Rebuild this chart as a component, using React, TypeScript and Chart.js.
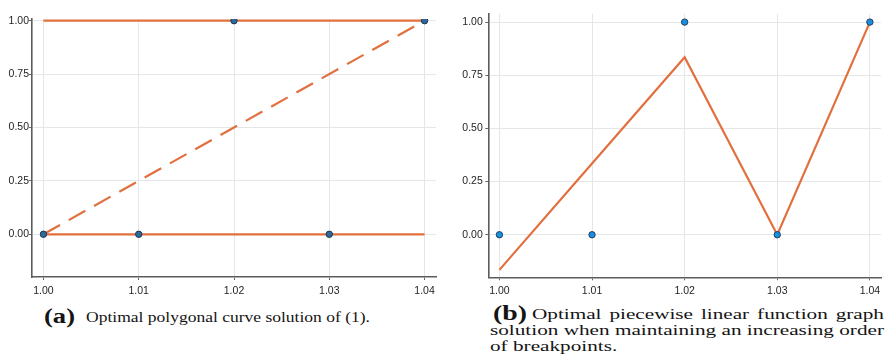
import React, { useEffect, useRef } from "react";
import { Chart, registerables } from "chart.js";

Chart.register(...registerables);

// ---- data ----
const xTicks = [1.0, 1.01, 1.02, 1.03, 1.04];
const yTicks = [0, 0.25, 0.5, 0.75, 1.0];

// (a) polygonal curve
const breakX = [1.0, 1.01, 1.02, 1.03, 1.04];
const breakY = [0, 0, 1, 0, 1];
const upperX = [1.0, 1.04];
const upperY = [1, 1];
const lowerX = [1.0, 1.04];
const lowerY = [0, 0];
const diagX = [1.0, 1.04];
const diagY = [0, 1];

// (b) piecewise linear function
const fitX = [1.0, 1.01, 1.02, 1.03, 1.04];
const fitY = [-0.165, 0.335, 0.835, 0, 1];

const capA = "Optimal polygonal curve solution of (1).";
const capB1 = "Optimal piecewise linear function graph";
const capB2 = "solution when maintaining an increasing order";
const capB3 = "of breakpoints.";

const LINE = "#E2703F";
const tickFont = { family: '"Liberation Sans", Arial, sans-serif', size: 10.5 };
const capFamily = '"Liberation Serif", "Times New Roman", serif';
const CAP = 15;

const zip = (xs: number[], ys: number[]) => xs.map((x, i) => ({ x, y: ys[i] }));

let mctx: CanvasRenderingContext2D | null = null;
function measure(text: string, size: number, weight = 400) {
  if (!mctx) mctx = document.createElement("canvas").getContext("2d");
  mctx!.font = `${weight} ${size}px ${capFamily}`;
  return mctx!.measureText(text).width;
}

function makeConfig(datasets: any[], o: any): any {
  return {
    type: "scatter",
    data: { datasets },
    options: {
      animation: false,
      responsive: false,
      devicePixelRatio: 1,
      layout: { padding: { left: 0, top: o.top, right: o.right, bottom: 0 } },
      plugins: { legend: { display: false }, tooltip: { enabled: false } },
      scales: {
        x: {
          type: "linear",
          min: 0.9988,
          max: 1.0412,
          afterBuildTicks: (s: any) => {
            s.ticks = xTicks.map((v) => ({ value: v }));
          },
          afterFit: (s: any) => {
            s.height = o.xHeight;
          },
          ticks: {
            font: tickFont,
            color: "#1e1e1e",
            padding: 5,
            maxRotation: 0,
            autoSkip: false,
            callback: (v: any) => Number(v).toFixed(2),
          },
          grid: { color: "#e6e6e6", lineWidth: 1, drawTicks: true, tickLength: 3, tickColor: "#666" },
          border: { color: "#5c5c5c", width: 1.6 },
        },
        y: {
          type: "linear",
          min: o.yMin,
          max: o.yMax,
          afterBuildTicks: (s: any) => {
            s.ticks = yTicks.map((v) => ({ value: v }));
          },
          afterFit: (s: any) => {
            s.width = o.yWidth;
          },
          ticks: {
            font: tickFont,
            color: "#1e1e1e",
            padding: o.yPad,
            autoSkip: false,
            callback: (v: any) => Number(v).toFixed(2),
          },
          grid: { color: "#e6e6e6", lineWidth: 1, drawTicks: true, tickLength: 3, tickColor: "#666" },
          border: { color: "#5c5c5c", width: 1.6 },
        },
      },
    },
  };
}

const lineDs = (data: any[], dash: number[] = []) => ({
  data,
  showLine: true,
  borderColor: LINE,
  borderWidth: 2.2,
  borderDash: dash,
  pointRadius: 0,
  order: 2,
});

const pointDs = (data: any[], fill: string, stroke: string) => ({
  data,
  showLine: false,
  pointRadius: 3.2,
  pointBackgroundColor: fill,
  pointBorderColor: stroke,
  pointBorderWidth: 1,
  order: 0,
});

// text squeezed/stretched horizontally to a target width
function Fit({ text, left, top, width, size, weight = 400, k }: any) {
  const scale = k ?? width / measure(text, size, weight);
  return (
    <div
      style={{
        position: "absolute",
        left,
        top,
        fontFamily: capFamily,
        fontSize: size,
        fontWeight: weight,
        lineHeight: size + "px",
        color: "#141414",
        whiteSpace: "nowrap",
        transform: `scaleX(${scale})`,
        transformOrigin: "0 0",
      }}
    >
      {text}
    </div>
  );
}

// justified line: words spread across the width, glyphs scaled by k
function Just({ text, left, right, top, size, k }: any) {
  return (
    <div
      style={{
        position: "absolute",
        left,
        top,
        width: (right - left) / k,
        display: "flex",
        justifyContent: "space-between",
        fontFamily: capFamily,
        fontSize: size,
        lineHeight: size + "px",
        color: "#141414",
        whiteSpace: "nowrap",
        transform: `scaleX(${k})`,
        transformOrigin: "0 0",
      }}
    >
      {text.split(" ").map((w: string, i: number) => (
        <span key={i} style={{ flexShrink: 0 }}>
          {w}
        </span>
      ))}
    </div>
  );
}

export default function App() {
  const c1 = useRef<HTMLCanvasElement>(null);
  const c2 = useRef<HTMLCanvasElement>(null);

  useEffect(() => {
    const ch1 = new Chart(
      c1.current!,
      makeConfig(
        [
          pointDs(zip(breakX, breakY), "#2c6a9c", "#1d3550"),
          lineDs(zip(upperX, upperY)),
          lineDs(zip(lowerX, lowerY)),
          lineDs(zip(diagX, diagY), [19, 10]),
        ],
        { top: 19, right: 9, xHeight: 23, yWidth: 32, yPad: 0, yMin: -0.2, yMax: 1.008 }
      )
    );
    const ch2 = new Chart(
      c2.current!,
      makeConfig(
        [pointDs(zip(breakX, breakY), "#1590e2", "#243f5c"), lineDs(zip(fitX, fitY))],
        { top: 14, right: 1, xHeight: 22.7, yWidth: 43.3, yPad: 2.5, yMin: -0.2, yMax: 1.038 }
      )
    );
    return () => {
      ch1.destroy();
      ch2.destroy();
    };
  }, []);

  const kB = 394 / measure(capB2, CAP);

  return (
    <div
      style={{
        position: "fixed",
        left: 0,
        top: 0,
        width: 886,
        height: 364,
        background: "#fff",
        overflow: "hidden",
      }}
    >
      <canvas ref={c1} width={445} height={300} style={{ position: "absolute", left: 0, top: 0 }} />
      <canvas ref={c2} width={441} height={300} style={{ position: "absolute", left: 445, top: 0 }} />

      <Fit text="(a)" left={44} top={306} width={31} size={20} weight={700} />
      <Fit text={capA} left={86} top={310.4} width={284} size={CAP} />

      <Fit text="(b)" left={492.7} top={303} width={34} size={20} weight={700} />
      <Just text={capB1} left={532} right={884} top={307.4} size={CAP} k={kB} />
      <Fit text={capB2} left={490} top={323.4} width={394} size={CAP} />
      <Fit text={capB3} left={490} top={339.4} size={CAP} k={kB} />
    </div>
  );
}
